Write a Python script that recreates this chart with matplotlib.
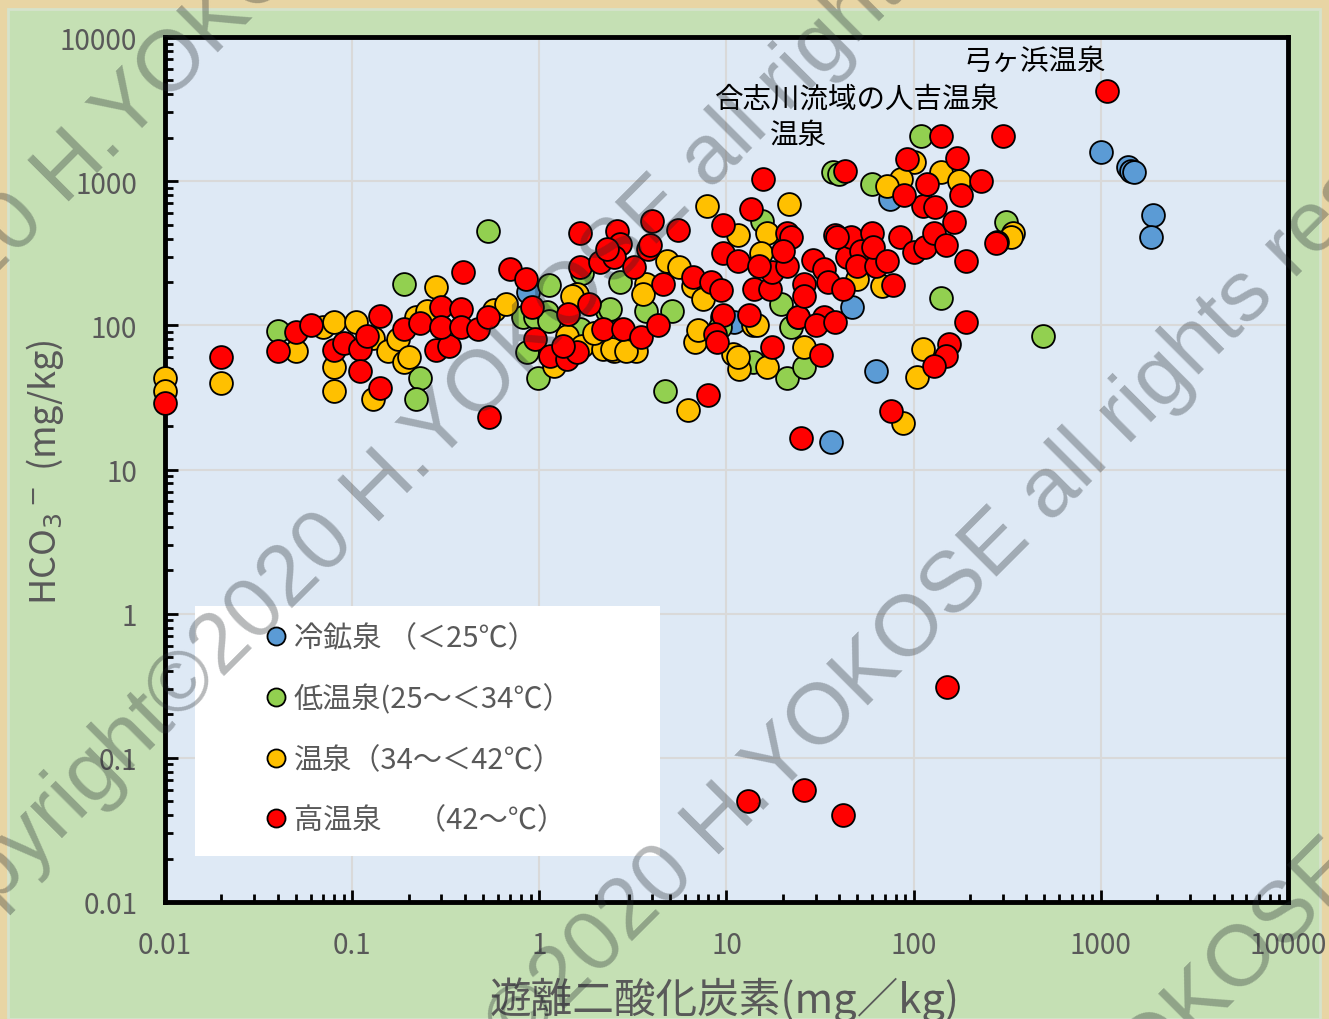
import matplotlib.pyplot as plt
from matplotlib.lines import Line2D
from matplotlib.patches import Rectangle

plt.rcParams['font.family'] = ['Noto Sans CJK JP', 'DejaVu Sans']

# 遊離二酸化炭素 (mg/kg) vs HCO3- (mg/kg), by spring temperature class
cold_x = [1000, 1400, 1450, 1500, 1900, 1850, 63, 36, 47, 75, 0.87, 11]
cold_y = [1600, 1260, 1170, 1150, 580, 410, 48, 15.5, 135, 750, 170, 106]

low_x = [0.04, 0.19, 0.23, 0.22, 0.53, 1.12, 0.86, 0.98, 0.82, 0.95, 1.1, 1.12,
         2.3, 2.7, 3.7, 5.1, 1.7, 1.65, 110, 37, 40, 60, 140, 490, 310, 4.7,
         21, 26, 19.5, 22, 13.8, 9.5, 9.2, 15.5, 24, 2.4]
low_y = [92, 195, 43, 31, 450, 190, 65, 43, 114, 114, 123, 107,
         125, 200, 125, 125, 230, 94, 2050, 1150, 1120, 950, 154, 84, 520, 35,
         43, 51, 140, 97, 56, 115, 98, 530, 115, 129]

warm_x = [0.01, 0.01, 0.02, 0.05, 0.07, 0.08, 0.08, 0.08, 0.105, 0.13, 0.13,
          0.155, 0.175, 0.19, 0.20, 0.22, 0.25, 0.28, 0.57, 0.66, 1.2, 1.4,
          1.58, 1.7, 2.0, 2.2, 2.5, 3.3, 3.7, 3.6, 7.9, 21.5, 6.6, 7.5, 6.8,
          7.0, 4.8, 5.6, 13.8, 10.8, 11.7, 16.5, 26, 50, 68, 112, 104, 88, 6.2,
          100, 86, 72, 140, 175, 340, 330, 11.5, 16.5, 15.2, 14.5, 11.5, 1.5,
          1.95, 2.45, 2.9]
warm_y = [43, 35, 40, 66, 98, 106, 51, 35, 105, 82, 31,
          66, 80, 56, 60, 115, 125, 185, 128, 140, 52, 84,
          164, 72, 89, 68, 66, 66, 195, 165, 670, 690, 187, 152, 77,
          93, 280, 255, 100, 63, 50, 51, 71, 210, 187, 68, 44, 21, 26,
          1350, 1030, 920, 1150, 1000, 440, 410, 420, 440, 320, 100, 60, 160,
          88, 68, 66]

hot_x = [0.01, 0.02, 0.04, 0.05, 0.06, 0.08, 0.09, 0.11, 0.11, 0.12, 0.14, 0.14,
         0.19, 0.23, 0.28, 0.33, 0.30, 0.30, 0.38, 0.38, 0.39, 0.47, 0.53, 0.54,
         0.70, 0.85, 0.91, 0.95, 1.14, 1.40, 1.58, 1.33, 1.42, 1.84, 1.65, 1.65,
         2.1, 2.6, 2.7, 2.5, 2.3, 2.2, 2.8, 3.5, 3.2, 4.0, 3.8, 4.3, 3.9, 5.5,
         4.6, 6.6, 8.3, 9.4, 9.6, 9.6, 11.5, 13.5, 15.6, 14, 17, 17.5, 21, 21,
         22, 15, 20, 29, 26, 33, 35, 42, 44, 46, 38, 52, 50, 63, 60, 61, 39, 43,
         72, 78, 85, 100, 115, 128, 148, 280, 275, 190, 165, 112, 130, 89, 118,
         180, 230, 92, 170, 140, 300, 1080, 190, 155, 148, 128, 76, 8.0, 25, 24,
         33, 30, 38, 26, 9.6, 13.2, 8.7, 8.9, 17.5, 32, 13, 26, 42, 150]
hot_y = [29, 60, 66, 90, 100, 67, 76, 68, 48, 85, 117, 37,
         94, 103, 67, 72, 135, 98, 129, 98, 235, 94, 114, 23,
         245, 210, 135, 80, 61, 58, 65, 72, 119, 140, 440, 255,
         275, 450, 365, 300, 340, 94, 94, 83, 255, 530, 340, 100, 360, 460,
         195, 215, 200, 175, 320, 500, 280, 640, 1030, 180, 180, 235, 260, 440,
         410, 260, 330, 285, 195, 245, 200, 180, 300, 410, 420, 330, 260, 260, 440, 350, 410, 1170,
         280, 190, 410, 325, 350, 440, 360, 380, 370, 280, 520, 670, 660, 800, 950,
         800, 1010, 1420, 1440, 2050, 2050, 4200, 106, 74, 61, 52, 25.5, 33, 16.5, 115,
         115, 100, 105, 160, 118, 118, 87, 77, 71, 62, 0.05, 0.06, 0.04, 0.31]

series = [
    (cold_x, cold_y, '#5b9bd5', '冷鉱泉 （＜25℃）'),
    (low_x, low_y, '#92d050', '低温泉(25～＜34℃）'),
    (warm_x, warm_y, '#ffc000', '温泉（34～＜42℃）'),
    (hot_x, hot_y, '#ff0000', '高温泉　 （42～℃）'),
]

xticks = [0.01, 0.1, 1, 10, 100, 1000, 10000]
tick_labels = ['0.01', '0.1', '1', '10', '100', '1000', '10000']

fig = plt.figure(figsize=(13.29, 10.20), dpi=100)
fig.patch.set_facecolor('#e8d5a4')
fig.patches.append(Rectangle((8 / 1329, 0), 1312 / 1329, 1010 / 1020,
                             transform=fig.transFigure, facecolor='#c5e0b4',
                             edgecolor='#d5e3cc', linewidth=2, zorder=-5))

ax = fig.add_axes([165 / 1329, 1 - 903 / 1020, 1123 / 1329, 865 / 1020])
ax.set_facecolor('#dee9f5')
ax.set_xscale('log')
ax.set_yscale('log')
ax.set_xlim(0.01, 10000)
ax.set_ylim(0.01, 10000)

for xs, ys, color, label in series:
    ax.scatter(xs, ys, s=270, c=color, edgecolors='black', linewidths=1.3,
               zorder=3, clip_on=False)

ax.set_xticks(xticks)
ax.set_xticklabels(tick_labels)
ax.set_yticks(xticks)
ax.set_yticklabels(tick_labels)
ax.grid(True, which='major', color='#d9d9d9', linewidth=1.5, zorder=0)
ax.set_axisbelow(True)
for side in ax.spines.values():
    side.set_linewidth(3.5)
    side.set_color('black')
ax.tick_params(which='both', direction='in', top=False, right=False, width=2)
ax.tick_params(which='major', length=9, labelsize=20, labelcolor='#595959', pad=20)
ax.tick_params(which='minor', length=6)

# legend on a white panel
ax.add_patch(Rectangle((0.0267, 0.0532), 0.4141, 0.289, transform=ax.transAxes,
                       facecolor='white', edgecolor='none', zorder=4))
handles = [Line2D([], [], marker='o', ls='', markersize=13, markerfacecolor=c,
                  markeredgecolor='black', markeredgewidth=1.3)
           for _, _, c, _ in series]
leg = ax.legend(handles, [s[3] for s in series], loc='upper left',
                bbox_to_anchor=(0.0885, 0.322), frameon=False, fontsize=21,
                labelcolor='#595959', handlelength=0.8, handletextpad=0.2,
                labelspacing=1.04, borderaxespad=0, borderpad=0)
leg.set_zorder(5)

fig.text(45 / 1329, 1 - 472 / 1020, r'HCO$_3$$^-$ (mg/kg)', rotation=90,
         ha='center', va='center', fontsize=26, color='#595959')
fig.text(725 / 1329, 1 - 1000 / 1020, '遊離二酸化炭素(mg／kg)',
         ha='center', va='center', fontsize=30, color='#595959')

fig.text(1035 / 1329, 1 - 62 / 1020, '弓ヶ浜温泉', ha='center', va='center',
         fontsize=20.5, color='black', zorder=6)
fig.text(857 / 1329, 1 - 100 / 1020, '合志川流域の人吉温泉', ha='center',
         va='center', fontsize=20.5, color='black', zorder=6)
fig.text(798 / 1329, 1 - 136 / 1020, '温泉', ha='center', va='center',
         fontsize=20.5, color='black', zorder=6)

# copyright watermark across the whole figure
mark = 'Copyright©2020 H.YOKOSE all rights reserved'
for cx, cy in [(228, 12), (538, 332), (878, 665), (1210, 995)]:
    fig.text(cx / 1329, 1 - cy / 1020, mark, rotation=45, rotation_mode='anchor',
             ha='center', va='center', fontsize=62, family='Liberation Sans',
             color='#20262b', alpha=0.32, zorder=10)

fig.savefig('out.png', dpi=100, facecolor=fig.get_facecolor())
